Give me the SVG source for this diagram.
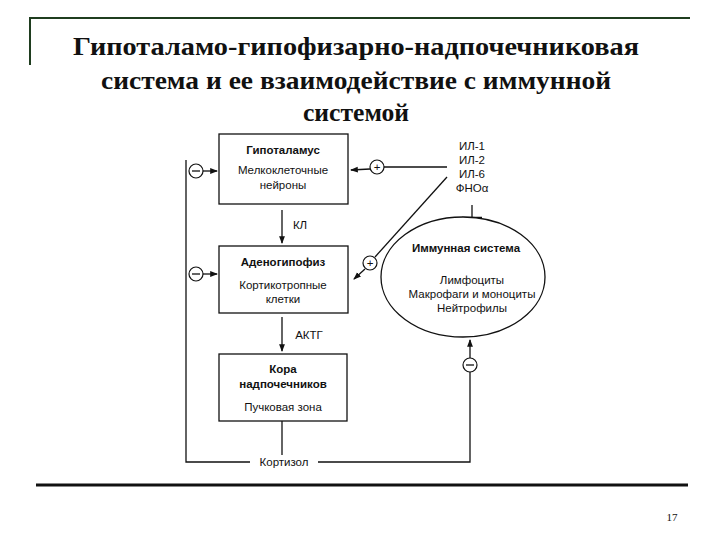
<svg xmlns="http://www.w3.org/2000/svg" width="720" height="540" viewBox="0 0 720 540">
<defs>
<marker id="ar" viewBox="0 0 8 8" refX="7" refY="4" markerWidth="6" markerHeight="6" orient="auto"><path d="M0,1 L8,4 L0,7 z" fill="#111"/></marker>
<style>
.t{font-family:"Liberation Serif",serif;font-weight:bold;font-size:25px;fill:#111;text-anchor:middle}
.s{font-family:"Liberation Sans",Arial,sans-serif;font-size:11.5px;fill:#111;text-anchor:middle}
.b{font-weight:bold}
.box{fill:#fff;stroke:#111;stroke-width:1.3}
.ln{fill:none;stroke:#111;stroke-width:1.3}
.c{fill:#fff;stroke:#111;stroke-width:1.2}
</style>
</defs>
<rect width="720" height="540" fill="#fff"/>
<path d="M30,65 V18 H690" fill="none" stroke="#1f3d1f" stroke-width="2"/>
<line x1="36" y1="485" x2="688" y2="485" stroke="#111" stroke-width="3"/>
<text x="672" y="521" font-family="Liberation Serif,serif" font-size="11" fill="#111" text-anchor="middle">17</text>
<text class="t" x="356" y="55" textLength="566" lengthAdjust="spacingAndGlyphs">Гипоталамо-гипофизарно-надпочечниковая</text>
<text class="t" x="356" y="89" textLength="510" lengthAdjust="spacingAndGlyphs">система и ее взаимодействие с иммунной</text>
<text class="t" x="356" y="121" textLength="106" lengthAdjust="spacingAndGlyphs">системой</text>
<g id="connectors">
<line class="ln" x1="282" y1="421" x2="282" y2="455"/>
<path class="ln" d="M250,462 H186 V160"/>
<line class="ln" x1="203" y1="171" x2="217" y2="171" marker-end="url(#ar)"/>
<line class="ln" x1="203" y1="274" x2="217" y2="274" marker-end="url(#ar)"/>
<line class="ln" x1="282" y1="210" x2="282" y2="243" marker-end="url(#ar)"/>
<line class="ln" x1="282" y1="317" x2="282" y2="351" marker-end="url(#ar)"/>
<path class="ln" d="M318,462 H470 V372"/>
<line class="ln" x1="470" y1="358" x2="470" y2="340" marker-end="url(#ar)"/>
<line class="ln" x1="447" y1="167" x2="384" y2="167"/>
<line class="ln" x1="370" y1="169" x2="351" y2="170" marker-end="url(#ar)"/>
<line class="ln" x1="447" y1="177" x2="375" y2="257"/>
<line class="ln" x1="365" y1="269" x2="354" y2="279" marker-end="url(#ar)"/>
<line class="ln" x1="472" y1="205" x2="472" y2="217"/>
<line x1="462" y1="218" x2="482" y2="218" stroke="#111" stroke-width="2.5"/>
</g>
<g id="hypothalamus">
<rect class="box" x="219" y="134" width="129" height="70"/>
<text class="s b" x="283" y="154">Гипоталамус</text>
<text class="s" x="283" y="174">Мелкоклеточные</text>
<text class="s" x="283" y="189">нейроны</text>
</g>
<g id="adenohypophysis">
<rect class="box" x="219" y="246" width="129" height="67"/>
<text class="s b" x="283" y="266">Аденогипофиз</text>
<text class="s" x="283" y="289">Кортикотропные</text>
<text class="s" x="283" y="303">клетки</text>
</g>
<g id="cortex">
<rect class="box" x="219" y="354" width="128" height="67"/>
<text class="s b" x="283" y="373">Кора</text>
<text class="s b" x="283" y="388">надпочечников</text>
<text class="s" x="283" y="411">Пучковая зона</text>
</g>
<g id="immune">
<ellipse class="box" cx="463" cy="277" rx="82" ry="60"/>
<text class="s b" x="466" y="252">Иммунная система</text>
<text class="s" x="472" y="284">Лимфоциты</text>
<text class="s" x="472" y="298">Макрофаги и моноциты</text>
<text class="s" x="472" y="312">Нейтрофилы</text>
</g>
<g id="cytokines">
<text class="s" x="472" y="150">ИЛ-1</text>
<text class="s" x="472" y="164">ИЛ-2</text>
<text class="s" x="472" y="178">ИЛ-6</text>
<text class="s" x="472" y="192">ФНОα</text>
</g>
<g id="labels">
<text class="s" x="300" y="229">КЛ</text>
<text class="s" x="309" y="339">АКТГ</text>
<text class="s" x="284" y="466">Кортизол</text>
</g>
<g id="signs">
<circle class="c" cx="196" cy="171" r="7"/><line class="ln" x1="192" y1="171" x2="200" y2="171"/>
<circle class="c" cx="196" cy="274" r="7"/><line class="ln" x1="192" y1="274" x2="200" y2="274"/>
<circle class="c" cx="470" cy="365" r="7"/><line class="ln" x1="466" y1="365" x2="474" y2="365"/>
<circle class="c" cx="377" cy="167" r="7"/><text class="s" x="377" y="171">+</text>
<circle class="c" cx="370" cy="263" r="7"/><text class="s" x="370" y="267">+</text>
</g>
</svg>
